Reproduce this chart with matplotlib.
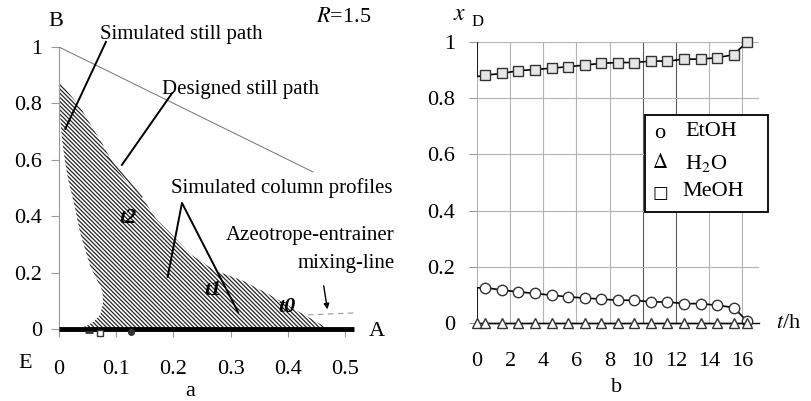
import matplotlib
matplotlib.use('Agg')
import matplotlib.pyplot as plt
from matplotlib.patches import Rectangle

plt.rcParams['font.family'] = ['Liberation Serif', 'DejaVu Serif']
plt.rcParams['mathtext.fontset'] = 'stix'
plt.rcParams['hatch.linewidth'] = 0.9

# ---- panel a: column profile region (right edge top->bottom, left edge bottom->top)
edge_right_x = [0.0, 0.012, 0.037, 0.058, 0.075, 0.098, 0.12, 0.145, 0.17, 0.195, 0.23, 0.27, 0.323, 0.365, 0.423, 0.472]
edge_right_y = [0.876, 0.85, 0.787, 0.716, 0.66, 0.574, 0.517, 0.468, 0.39, 0.34, 0.265, 0.21, 0.17, 0.125, 0.057, 0.0]
edge_left_x = [0.037, 0.06, 0.072, 0.077, 0.076, 0.055, 0.037, 0.025, 0.016, 0.01, 0.005, 0.0, 0.0]
edge_left_y = [0.0, 0.025, 0.05, 0.092, 0.135, 0.22, 0.34, 0.457, 0.53, 0.6, 0.68, 0.8, 0.876]
designed_x = [0.085, 0.145]
designed_y = [0.61, 0.468]
ba_edge_x = [0.0, 0.444]
ba_edge_y = [1.0, 0.557]
mixing_x = [0.435, 0.516]
mixing_y = [0.05, 0.057]
ae_x = [0.0, 0.516]
ae_y = [0.0, 0.0]
a_xticks = [0, 0.1, 0.2, 0.3, 0.4, 0.5]
a_xlabels = ['0', '0.1', '0.2', '0.3', '0.4', '0.5']
yticks = [0, 0.2, 0.4, 0.6, 0.8, 1.0]
ylabels = ['0', '0.2', '0.4', '0.6', '0.8', '1']

# ---- panel b: distillate composition vs time
t_marks = [0.5, 1.5, 2.5, 3.5, 4.5, 5.5, 6.5, 7.5, 8.5, 9.5, 10.5, 11.5, 12.5, 13.5, 14.5, 15.5, 16.3]
meoh = [0.882, 0.888, 0.898, 0.902, 0.907, 0.912, 0.918, 0.924, 0.927, 0.927, 0.932, 0.932, 0.939, 0.939, 0.944, 0.955, 1.0]
etoh = [0.126, 0.117, 0.111, 0.105, 0.099, 0.093, 0.089, 0.085, 0.081, 0.081, 0.075, 0.075, 0.069, 0.069, 0.063, 0.055, 0.007]
h2o = [0.0] * 17
meoh_start = [1.0, 0.877]
etoh_start = [0.0, 0.125]
b_xticks = [0, 2, 4, 6, 8, 10, 12, 14, 16]

W, H = 811, 401
fig = plt.figure(figsize=(W / 100, H / 100), dpi=100)

def fx(px):
    return px / W

def fy(py):
    return 1 - py / H

# ================= panel a
ax = fig.add_axes([fx(59), fy(329), 0.52 * 572 / W, 282 / H])
ax.set_xlim(0, 0.52)
ax.set_ylim(0, 1)
for s in ['top', 'right', 'bottom']:
    ax.spines[s].set_visible(False)
ax.spines['left'].set_color('0.6')
ax.spines['left'].set_linewidth(0.8)

poly_x = edge_right_x + edge_left_x
poly_y = edge_right_y + edge_left_y
ax.fill(poly_x, poly_y, facecolor='white', edgecolor='0.15', hatch=chr(92) * 8, linewidth=0, zorder=2)
ax.plot(designed_x, designed_y, color='0.2', lw=0.9, zorder=3)
ax.plot(ba_edge_x, ba_edge_y, color='0.45', lw=0.7, zorder=3)
ax.plot(mixing_x, mixing_y, color='0.6', lw=0.8, ls=(0, (5, 4)), zorder=3, clip_on=False)
ax.plot(ae_x, ae_y, color='black', lw=3.5, solid_capstyle='butt', zorder=4, clip_on=False)
ax.plot([0.052], [-0.012], marker='_', ms=6, color='0.2', mew=2, clip_on=False, zorder=4)
ax.plot([0.072], [-0.014], marker='s', ms=5, mfc='white', mec='0.2', clip_on=False, zorder=4)
ax.plot([0.125], [-0.01], marker='o', ms=4, color='0.2', clip_on=False, zorder=4)

ax.set_xticks(a_xticks)
ax.set_xticklabels(a_xlabels)
ax.set_yticks(yticks)
ax.set_yticklabels(ylabels)
ax.tick_params(axis='x', length=6, color='0.6', pad=16, labelsize=16, direction='out')
ax.tick_params(axis='y', length=6, color='0.6', pad=6, labelsize=16, direction='out')

txt = dict(fontsize=15, clip_on=False)
lead = dict(color='black', lw=1.4, clip_on=False, zorder=5)
ax.text(0.213, 1.043, 'Simulated still path', ha='center', va='center', **txt)
ax.plot([0.082, 0.011], [1.018, 0.71], **lead)
ax.text(0.317, 0.851, 'Designed still path', ha='center', va='center', **txt)
ax.plot([0.198, 0.110], [0.837, 0.582], **lead)
ax.text(0.39, 0.50, 'Simulated column profiles', ha='center', va='center', **txt)
ax.plot([0.19, 0.215, 0.313], [0.185, 0.447, 0.06], **lead)
ax.text(0.587, 0.333, 'Azeotrope-entrainer', ha='right', va='center', **txt)
ax.text(0.587, 0.234, 'mixing-line', ha='right', va='center', **txt)
ax.annotate('', xy=(0.47, 0.06), xytext=(0.462, 0.163),
            arrowprops=dict(arrowstyle='-|>', color='black', lw=1.0, mutation_scale=8))
tt = dict(fontsize=16, fontweight='bold', fontstyle='italic', ha='center', va='center', zorder=6)
ax.text(0.121, 0.394, 't2', **tt)
ax.text(0.269, 0.138, 't1', **tt)
ax.text(0.399, 0.078, 't0', **tt)

fig.text(fx(56), fy(22), 'B', fontsize=16, ha='center', va='center')
fig.text(fx(25), fy(363), 'E', fontsize=16, ha='center', va='center')
fig.text(fx(377), fy(332), 'A', fontsize=16, ha='center', va='center')
fig.text(fx(190), fy(392), 'a', fontsize=16, ha='center', va='center')
fig.text(fx(344), fy(18), r'$R$=1.5', fontsize=16, ha='center', va='center')

# ================= panel b
bx = fig.add_axes([fx(477), fy(323), 17 * 16.5625 / W, 281 / H])
bx.set_xlim(0, 17)
bx.set_ylim(0, 1)
for s in ['top', 'right', 'left']:
    bx.spines[s].set_visible(False)
bx.spines['bottom'].set_color('black')
bx.spines['bottom'].set_linewidth(1.0)
bx.set_xticks(b_xticks)
bx.set_xticklabels([str(v) for v in b_xticks])
bx.set_yticks(yticks)
bx.set_yticklabels(ylabels)
bx.tick_params(axis='x', length=0, pad=21, labelsize=16)
bx.tick_params(axis='y', length=6, color='0.6', pad=10, labelsize=16)
for v in b_xticks:
    gc = '0.35' if v in (10, 12) else '0.7'
    bx.axvline(v, color=gc, lw=0.8, zorder=1)
for v in yticks[1:]:
    bx.axhline(v, color='0.7', lw=0.8, zorder=1)

bx.plot([0, 0] + t_marks, meoh_start + meoh, color='black', lw=1.2, zorder=3)
bx.plot(t_marks, meoh, ls='none', marker='s', ms=7, mfc='0.9', mec='0.2', mew=1.0, zorder=4, clip_on=False)
bx.plot([0, 0] + t_marks, etoh_start + etoh, color='black', lw=1.2, zorder=3)
bx.plot(t_marks, etoh, ls='none', marker='o', ms=7.5, mfc='white', mec='0.2', mew=1.0, zorder=4, clip_on=False)
bx.plot([0] + t_marks, [0.0] + h2o, color='black', lw=1.0, marker='^', ms=7, mfc='white', mec='0.2', mew=1.0, zorder=4, clip_on=False)

fig.text(fx(460), fy(15), r'$x$', fontsize=17, ha='center', va='center')
fig.text(fx(478), fy(22), 'D', fontsize=12, ha='center', va='center')
fig.text(fx(776), fy(323), r'$t$/h', fontsize=16, ha='left', va='center')
fig.text(fx(617), fy(388), 'b', fontsize=16, ha='center', va='center')

# legend drawn as a box with glyph texts
fig.patches.append(Rectangle((fx(645), fy(212)), (768 - 645) / W, (212 - 115) / H,
                             transform=fig.transFigure, facecolor='white', edgecolor='black', lw=1.3, zorder=5))
fig.text(fx(660), fy(133), 'o', fontsize=16, ha='center', va='center', zorder=6)
fig.text(fx(685), fy(132), 'EtOH', fontsize=16, ha='left', va='center', zorder=6)
fig.text(fx(660), fy(163), r'$\Delta$', fontsize=15, ha='center', va='center', zorder=6)
fig.text(fx(685), fy(163), r'H$_2$O', fontsize=16, ha='left', va='center', zorder=6)
fig.text(fx(660), fy(193), '\u25a1', fontsize=12, ha='center', va='center', zorder=6,
         family=['DejaVu Sans'])
fig.text(fx(682), fy(192), 'MeOH', fontsize=16, ha='left', va='center', zorder=6)

fig.savefig('out.png', dpi=100)
